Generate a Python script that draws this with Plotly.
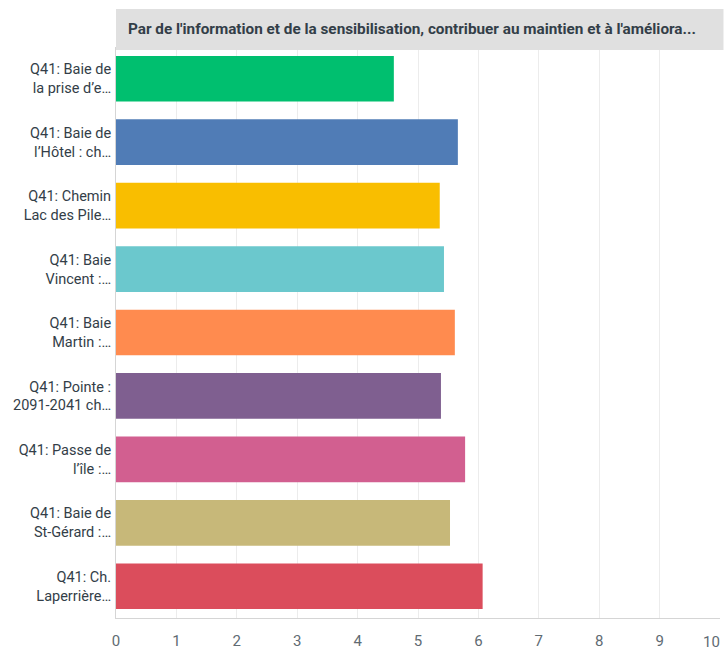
import plotly.graph_objects as go

categories = [
    "Q41: Baie de<br>la prise d’e…",
    "Q41: Baie de<br>l’Hôtel : ch…",
    "Q41: Chemin<br>Lac des Pile…",
    "Q41: Baie<br>Vincent :…",
    "Q41: Baie<br>Martin :…",
    "Q41: Pointe :<br>2091-2041 ch…",
    "Q41: Passe de<br>l’île :…",
    "Q41: Baie de<br>St-Gérard :…",
    "Q41: Ch.<br>Laperrière…",
]
values = [4.60, 5.66, 5.36, 5.43, 5.61, 5.38, 5.78, 5.53, 6.07]
colors = ["#00bf6f", "#507cb6", "#f9be00", "#6bc8cd", "#ff8b4f",
          "#7f5f90", "#d25f90", "#c7b879", "#db4d5c"]
x_ticks = list(range(0, 11))
x_tick_labels = [str(t) for t in x_ticks]
title_text = "Par de l'information et de la sensibilisation, contribuer au maintien et à l'améliora..."

W, H = 724, 652
L, R, T, B = 116, 3.5, 47, 34
ph = H - T - B
pw = W - L - R

TICK_FONT = dict(size=15, color="#5f6b73", family="Roboto")

fig = go.Figure(go.Bar(
    x=values, y=categories, orientation="h",
    marker=dict(color=colors, line=dict(width=0)),
    hoverinfo="skip",
))

fig.update_layout(
    width=W, height=H,
    margin=dict(l=L, r=R, t=T, b=B, autoexpand=False),
    paper_bgcolor="white", plot_bgcolor="white",
    bargap=0.28,
    showlegend=False,
    font=dict(family="Roboto", color="#333e48"),
    xaxis=dict(
        range=[0, 10], tickvals=x_ticks,
        ticktext=x_tick_labels[:-1] + [""],
        showgrid=True, gridcolor="#ececec", gridwidth=1,
        zeroline=False, showline=True, linecolor="#d5d5d5", linewidth=1,
        tickfont=TICK_FONT,
        ticks="", ticklen=0, fixedrange=True, automargin=False,
        ticklabelstandoff=9, ticklabeloverflow="allow",
    ),
    yaxis=dict(
        categoryorder="array", categoryarray=categories[::-1],
        autorange=False, range=[-0.5, len(categories) - 0.5],
        showgrid=False, zeroline=False,
        showline=True, linecolor="#d5d5d5", linewidth=1,
        tickfont=dict(size=14.5, color="#333e48", family="Roboto"),
        ticks="", ticklabelstandoff=1, fixedrange=True, automargin=False,
    ),
)

# last tick label, right-aligned to its gridline so it stays inside the page
fig.add_annotation(xref="x", yref="paper", x=x_ticks[-1], y=0,
                   xanchor="right", yanchor="top", xshift=2, yshift=-13,
                   text=x_tick_labels[-1], showarrow=False, font=TICK_FONT)

# header box
y_top = (H - B - 9) / ph
y_bot = (H - B - 50) / ph
fig.add_shape(type="rect", xref="paper", yref="paper",
              x0=0, x1=(W - L) / pw, y0=y_bot, y1=y_top,
              fillcolor="#e0e0e0", line=dict(width=0), layer="above")
fig.add_annotation(xref="paper", yref="paper", x=0, y=(H - B - 29.5) / ph,
                   xanchor="left", yanchor="middle", xshift=10,
                   text="<b>" + title_text + "</b>", showarrow=False,
                   font=dict(size=15.3, color="#333e48", family="Roboto"))

fig.write_html(
    "out.html",
    config={"displayModeBar": False},
    post_script="document.body.style.margin='0';document.body.style.overflow='hidden';",
)
